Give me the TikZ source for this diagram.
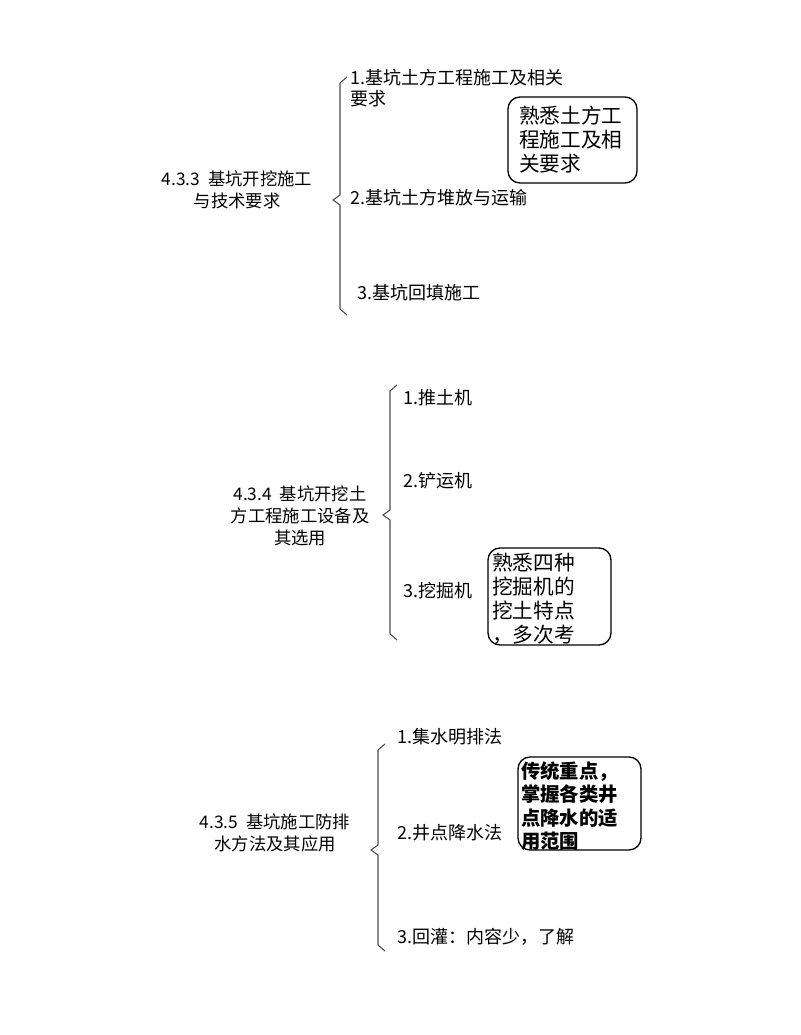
\documentclass[tikz,border=0pt]{standalone}
\usepackage{fontspec}
\setmainfont{Noto Sans CJK SC}
\begin{document}
\begin{tikzpicture}[x=0.75pt,y=-0.75pt,
  t/.style={anchor=west,inner sep=0pt,font=\fontsize{13.5}{16}\selectfont,align=left},
  nt/.style={anchor=west,inner sep=0pt,font=\fontsize{15.5}{18}\selectfont,align=left},
  title/.style={inner sep=0pt,font=\fontsize{13}{16.5}\selectfont,align=center},
  note/.style={draw,rounded corners=9pt,line width=1pt},
  br/.style={line width=0.8pt,gray!60!black}]
\useasboundingbox (0,0) rectangle (800,1035);
% group 1
\node[title] (g1) at (237,190) {4.3.3\ \ 基坑开挖施工\\与技术要求};
\draw[br] (347,77) -- (340,83) -- (340,195) -- (333,200) -- (340,205) -- (340,309) -- (347,315);
\node[t] (a1) at (350,88) {1.基坑土方工程施工及相关\\要求};
\node[t] (a2) at (350,198) {2.基坑土方堆放与运输};
\node[t] (a3) at (357,293) {3.基坑回填施工};
\draw[note] (508,97) rectangle (637,183);
\node[nt] (n1) at (519,140) {熟悉土方工\\程施工及相\\关要求};
% group 2
\node[title] (g2) at (300,516) {4.3.4\ \ 基坑开挖土\\方工程施工设备及\\其选用};
\draw[br] (397,385) -- (390,391) -- (390,510) -- (383,515) -- (390,520) -- (390,634) -- (397,640);
\node[t] (b1) at (403,398) {1.推土机};
\node[t] (b2) at (403,481) {2.铲运机};
\node[t] (b3) at (403,591) {3.挖掘机};
\draw[note] (488,548) rectangle (611,645);
\node[nt] (n2) at (492,599) {熟悉四种\\挖掘机的\\挖土特点\\，多次考};
% group 3
\node[title] (g3) at (275,833) {4.3.5\ \ 基坑施工防排\\水方法及其应用};
\draw[br] (385,744) -- (378,750) -- (378,845) -- (371,850) -- (378,855) -- (378,945) -- (385,951);
\node[t] (c1) at (397,737) {1.集水明排法};
\node[t] (c2) at (397,833) {2.井点降水法};
\node[t] (c3) at (397,937) {3.回灌：内容少，了解};
\draw[note] (518,757) rectangle (641,850);
\node[nt,font=\fontsize{14.5}{17.5}\selectfont\bfseries] (n3) at (521,806) {传统重点，\\掌握各类井\\点降水的适\\用范围};
\end{tikzpicture}
\end{document}
